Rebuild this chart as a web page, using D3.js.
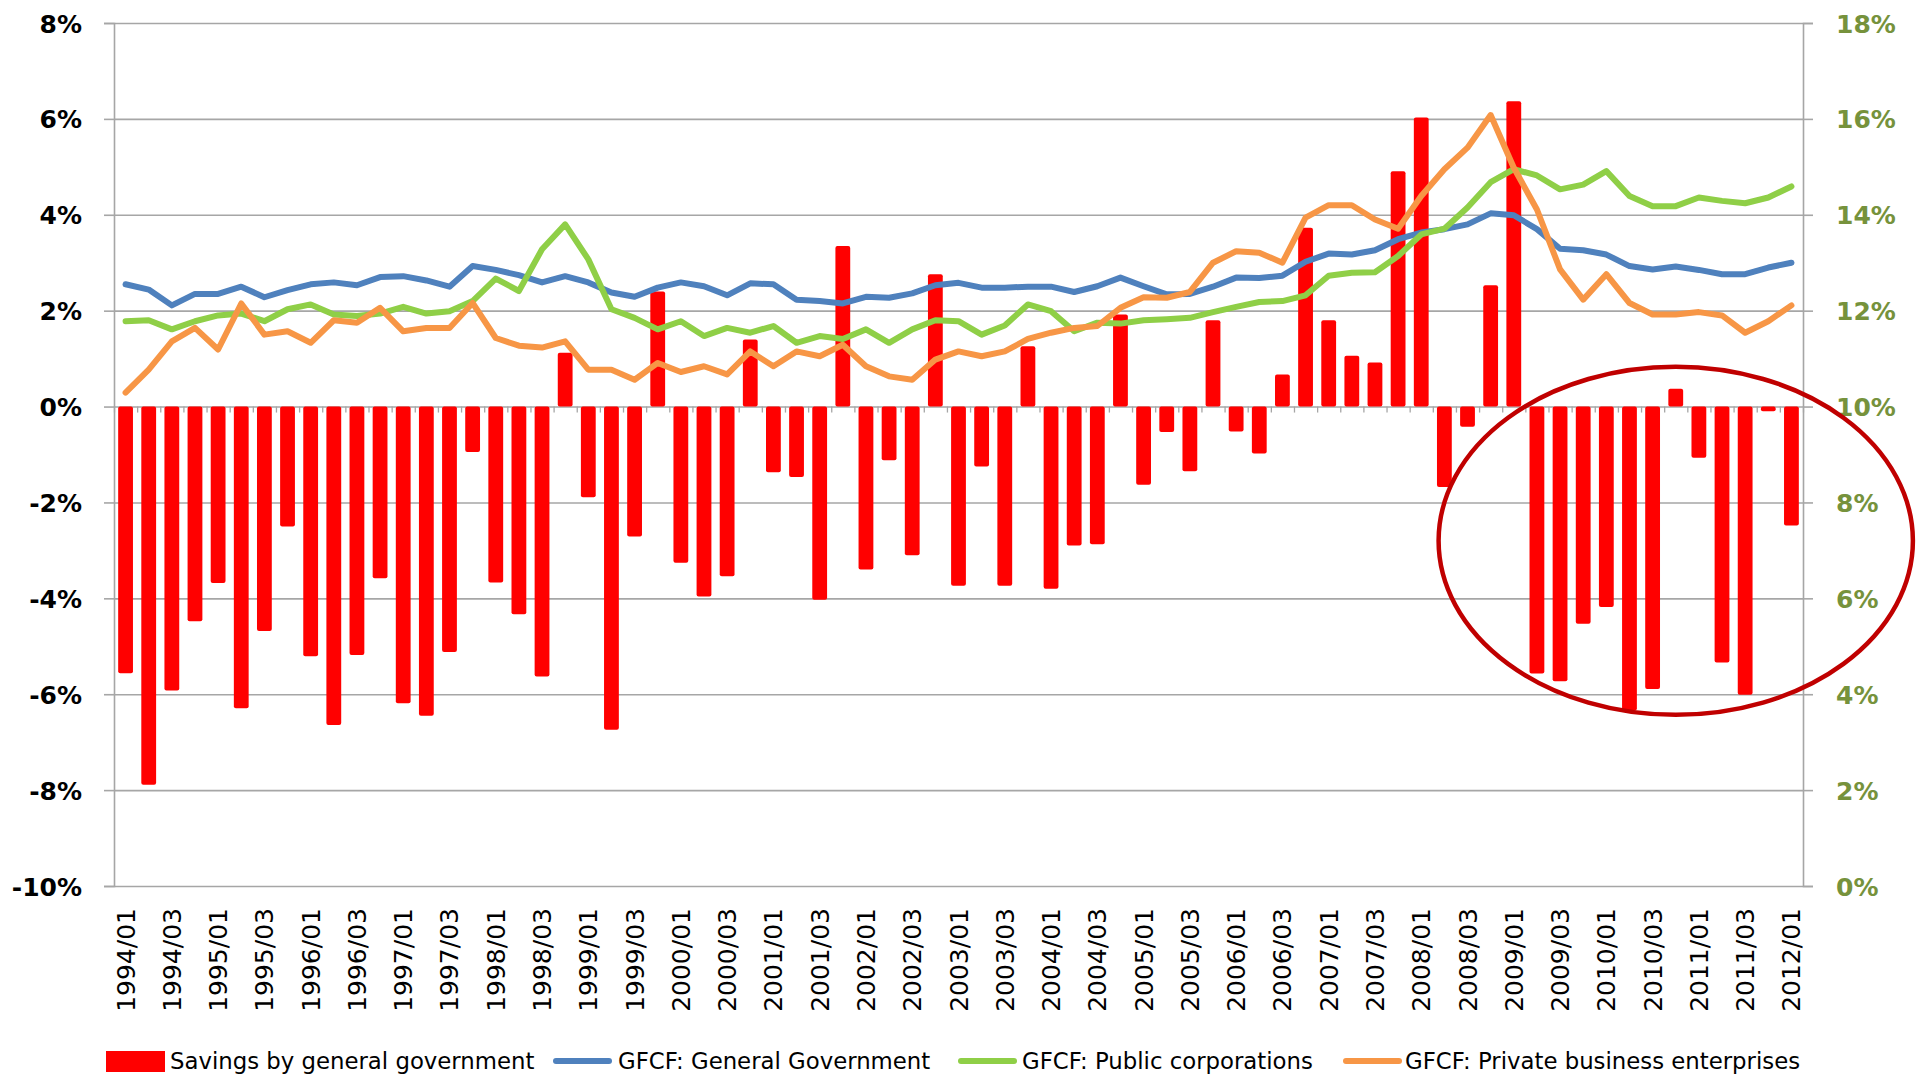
<!DOCTYPE html>
<html>
<head>
<meta charset="utf-8">
<script src="https://cdn.jsdelivr.net/npm/d3@7"></script>
<style>
  html, body { margin: 0; padding: 0; background: #ffffff; }
  svg { display: block; }
  text { font-family: "DejaVu Sans", "Liberation Sans", sans-serif; }
</style>
</head>
<body>
<svg id="chart" width="1919" height="1079"></svg>
<script>
// ---------------- DATA ----------------
const categories = [
  "1994/01","1994/02","1994/03","1994/04","1995/01","1995/02","1995/03","1995/04",
  "1996/01","1996/02","1996/03","1996/04","1997/01","1997/02","1997/03","1997/04",
  "1998/01","1998/02","1998/03","1998/04","1999/01","1999/02","1999/03","1999/04",
  "2000/01","2000/02","2000/03","2000/04","2001/01","2001/02","2001/03","2001/04",
  "2002/01","2002/02","2002/03","2002/04","2003/01","2003/02","2003/03","2003/04",
  "2004/01","2004/02","2004/03","2004/04","2005/01","2005/02","2005/03","2005/04",
  "2006/01","2006/02","2006/03","2006/04","2007/01","2007/02","2007/03","2007/04",
  "2008/01","2008/02","2008/03","2008/04","2009/01","2009/02","2009/03","2009/04",
  "2010/01","2010/02","2010/03","2010/04","2011/01","2011/02","2011/03","2011/04",
  "2012/01"
];

// Savings by general government (% , left axis)
const savingsGov = [
  -5.56,-7.89,-5.92,-4.48,-3.68,-6.29,-4.68,-2.50,-5.21,-6.64,
  -5.18,-3.58,-6.19,-6.45,-5.12,-0.95,-3.67,-4.33,-5.63, 1.12,
  -1.89,-6.74,-2.71, 2.40,-3.26,-3.96,-3.54, 1.40,-1.37,-1.47,
  -4.03, 3.35,-3.40,-1.12,-3.10, 2.76,-3.74,-1.25,-3.74, 1.26,
  -3.80,-2.90,-2.87, 1.92,-1.63,-0.53,-1.35, 1.80,-0.52,-0.98,
   0.67, 3.73, 1.80, 1.06, 0.92, 4.91, 6.03,-1.68,-0.42, 2.53,
   6.37,-5.57,-5.73,-4.53,-4.18,-6.34,-5.89, 0.37,-1.07,-5.34,
  -6.01,-0.10,-2.48
];

// GFCF: General Government (% , right axis)
const gfcfGeneralGov = [
  12.55,12.44,12.11,12.35,12.35,12.50,12.28,12.43,12.55,12.59,
  12.53,12.70,12.72,12.63,12.50,12.93,12.85,12.74,12.59,12.72,
  12.59,12.38,12.29,12.48,12.59,12.51,12.32,12.57,12.55,12.23,
  12.20,12.15,12.29,12.27,12.36,12.53,12.58,12.48,12.48,12.50,
  12.50,12.39,12.51,12.69,12.51,12.34,12.35,12.50,12.69,12.68,
  12.73,13.02,13.19,13.17,13.26,13.49,13.63,13.70,13.80,14.03,
  13.99,13.70,13.29,13.26,13.17,12.93,12.86,12.92,12.85,12.76,
  12.76,12.90,13.00
];

// GFCF: Public corporations (% , right axis)
const gfcfPublicCorp = [
  11.78,11.80,11.61,11.78,11.90,11.94,11.78,12.03,12.13,11.92,
  11.89,11.94,12.08,11.94,11.99,12.20,12.67,12.41,13.28,13.80,
  13.07,12.03,11.85,11.61,11.78,11.47,11.64,11.54,11.68,11.33,
  11.47,11.41,11.61,11.33,11.61,11.80,11.78,11.50,11.69,12.13,
  11.99,11.57,11.75,11.73,11.80,11.82,11.85,11.97,12.08,12.18,
  12.20,12.32,12.73,12.79,12.80,13.14,13.59,13.71,14.15,14.68,
  14.95,14.82,14.53,14.63,14.91,14.39,14.18,14.18,14.36,14.29,
  14.24,14.36,14.59
];

// GFCF: Private business enterprises (% , right axis)
const gfcfPrivateBus = [
  10.29,10.77,11.36,11.64,11.19,12.15,11.50,11.57,11.33,11.80,
  11.75,12.06,11.57,11.64,11.64,12.16,11.43,11.27,11.23,11.36,
  10.77,10.77,10.56,10.91,10.72,10.84,10.67,11.15,10.84,11.15,
  11.05,11.29,10.84,10.63,10.56,10.98,11.15,11.05,11.15,11.41,
  11.54,11.64,11.68,12.06,12.28,12.27,12.39,13.00,13.24,13.21,
  13.00,13.94,14.20,14.20,13.90,13.71,14.39,14.95,15.40,16.08,
  14.98,14.11,12.86,12.23,12.76,12.16,11.92,11.92,11.97,11.90,
  11.54,11.78,12.11
];

const leftTicks  = [-10, -8, -6, -4, -2, 0, 2, 4, 6, 8];
const rightTicks = [0, 2, 4, 6, 8, 10, 12, 14, 16, 18];

const seriesNames = [
  "Savings by general government",
  "GFCF: General Government",
  "GFCF: Public corporations",
  "GFCF: Private business enterprises"
];
const seriesColors = ["#ff0000", "#4f81bd", "#8fcf47", "#f79646"];

// ---------------- LAYOUT ----------------
const svg = d3.select("#chart");
const plotL = 114, plotR = 1803, plotT = 23, plotB = 886;
const gridColor = "#a6a6a6";

const x = d3.scaleBand().domain(categories).range([plotL, plotR])
  .paddingInner(0.36).paddingOuter(0.18);
const xIdx = d3.scaleLinear().domain([0, categories.length]).range([plotL, plotR]);
const yL = d3.scaleLinear().domain([-10, 8]).range([plotB, plotT]);
const yR = d3.scaleLinear().domain([0, 18]).range([plotB, plotT]);
const xc = c => x(c) + x.bandwidth() / 2;

// gridlines (left axis with long ticks)
const gGrid = svg.append("g").attr("transform", `translate(${plotL},0)`)
  .call(d3.axisLeft(yL).tickValues(leftTicks).tickSize(-(plotR - plotL)).tickFormat(""));
gGrid.select(".domain").remove();
gGrid.selectAll("line").attr("stroke", gridColor).attr("stroke-width", 1.6);

// left axis
const gLeft = svg.append("g").attr("transform", `translate(${plotL},0)`)
  .call(d3.axisLeft(yL).tickValues(leftTicks).tickSize(10).tickPadding(22)
    .tickFormat(d => d + "%"));
gLeft.select(".domain").attr("stroke", gridColor).attr("stroke-width", 1.6);
gLeft.selectAll("line").attr("stroke", gridColor).attr("stroke-width", 1.6);
gLeft.selectAll("text").attr("fill", "#000").style("font-size", "25px")
  .style("font-weight", "bold").attr("dy", "0.36em");

// right axis
const gRight = svg.append("g").attr("transform", `translate(${plotR},0)`)
  .call(d3.axisRight(yR).tickValues(rightTicks).tickSize(10).tickPadding(23)
    .tickFormat(d => d + "%"));
gRight.select(".domain").attr("stroke", gridColor).attr("stroke-width", 1.6);
gRight.selectAll("line").attr("stroke", gridColor).attr("stroke-width", 1.6);
gRight.selectAll("text").attr("fill", "#76923c").style("font-size", "25px")
  .style("font-weight", "bold").attr("dy", "0.36em");

// bars
svg.append("g").selectAll("rect").data(savingsGov).join("rect")
  .attr("x", (d, i) => x(categories[i]))
  .attr("width", x.bandwidth())
  .attr("y", d => Math.min(yL(d), yL(0)))
  .attr("height", d => Math.abs(yL(d) - yL(0)))
  .attr("rx", 2)
  .attr("fill", seriesColors[0]);

// category tick marks along the 0% line
const gCatTicks = svg.append("g").attr("transform", `translate(0,${yL(0)})`)
  .call(d3.axisBottom(xIdx).tickValues(d3.range(categories.length + 1)).tickSize(6).tickFormat(""));
gCatTicks.select(".domain").remove();
gCatTicks.selectAll("line").attr("stroke", gridColor).attr("stroke-width", 1.3);

// lines
const line = d3.line().x((d, i) => xc(categories[i])).y(d => yR(d));
[gfcfGeneralGov, gfcfPublicCorp, gfcfPrivateBus].forEach((s, k) => {
  svg.append("path").datum(s)
    .attr("d", line)
    .attr("fill", "none")
    .attr("stroke", seriesColors[k + 1])
    .attr("stroke-width", 6)
    .attr("stroke-linejoin", "round")
    .attr("stroke-linecap", "round");
});

// x axis labels (every second quarter)
const gX = svg.append("g").attr("transform", `translate(0,${plotB})`)
  .call(d3.axisBottom(x).tickValues(categories.filter((c, i) => i % 2 === 0)).tickSize(0));
gX.select(".domain").remove();
gX.selectAll("text")
  .attr("y", 0).attr("x", -22).attr("dy", "0.36em")
  .attr("transform", "rotate(-90)")
  .style("text-anchor", "end")
  .style("font-size", "25px")
  .attr("fill", "#000");

// highlight ellipse
svg.append("ellipse")
  .attr("cx", xc("2010/04"))
  .attr("cy", yL(-2.8))
  .attr("rx", x.step() * 10.25)
  .attr("ry", yL(0) - yL(3.63))
  .attr("fill", "none")
  .attr("stroke", "#c00000")
  .attr("stroke-width", 4.5);

// legend
const legendY = 1061;
const legendItems = [
  { sx: 106, tx: 170 },
  { sx: 553, tx: 618 },
  { sx: 958, tx: 1022 },
  { sx: 1343, tx: 1405 }
];
const gLeg = svg.append("g");
legendItems.forEach((it, k) => {
  if (k === 0) {
    gLeg.append("rect").attr("x", it.sx).attr("y", legendY - 10)
      .attr("width", 59).attr("height", 21).attr("fill", seriesColors[0]);
  } else {
    gLeg.append("line").attr("x1", it.sx + 3).attr("x2", it.sx + 56)
      .attr("y1", legendY).attr("y2", legendY)
      .attr("stroke", seriesColors[k]).attr("stroke-width", 6)
      .attr("stroke-linecap", "round");
  }
  gLeg.append("text").attr("x", it.tx).attr("y", legendY).attr("dy", "0.36em")
    .style("font-size", "22.8px").attr("fill", "#000").text(seriesNames[k]);
});
</script>
</body>
</html>
